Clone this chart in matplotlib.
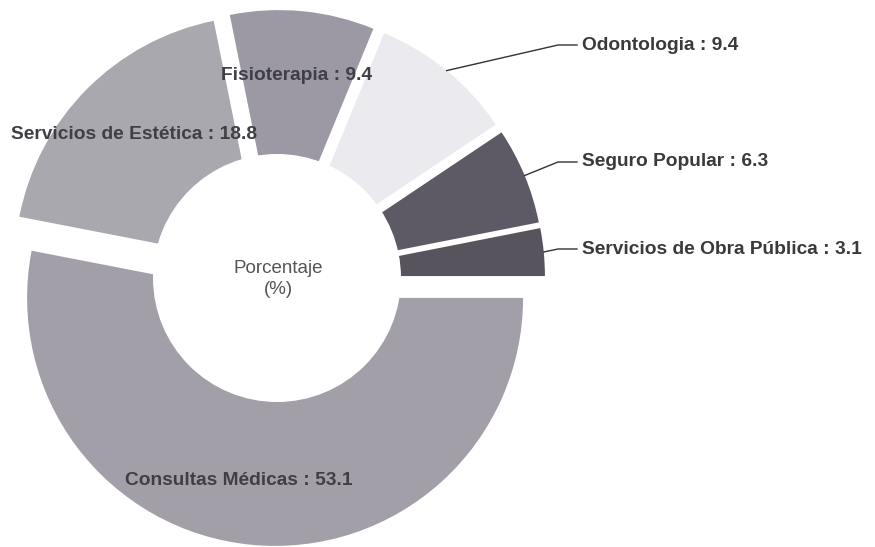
import numpy as np
import matplotlib
matplotlib.use("Agg")
import matplotlib.pyplot as plt
from matplotlib.patches import Circle

# Distribution of services (percent), counter-clockwise from 3 o'clock
categories = ["Servicios de Obra Pública", "Seguro Popular", "Odontologia",
              "Fisioterapia", "Servicios de Estética", "Consultas Médicas"]
values = [3.1, 6.3, 9.4, 9.4, 18.8, 53.1]
colors = ["#57545e", "#5d5a66", "#ebebef", "#9c99a4", "#aaa8af", "#a29fa9"]
outside = [True, True, True, False, False, False]

W, H = 875, 547
fig = plt.figure(figsize=(W / 100, H / 100), dpi=100)
ax = fig.add_axes([0, 0, 1, 1])

cx, cy = 277, H - 278
R = 248
hole_r = 124
gap = 20

wedges, _ = ax.pie(values, colors=colors, startangle=0, counterclock=True,
                   explode=[gap] * len(values), radius=R, center=(cx, cy),
                   wedgeprops=dict(linewidth=0))
ax.add_patch(Circle((cx, cy), hole_r, facecolor="white", edgecolor="none", zorder=5))

ax.set_xlim(0, W)
ax.set_ylim(0, H)
ax.set_aspect("equal")
ax.axis("off")

font = ["Liberation Sans", "DejaVu Sans"]
text_x = 582
text_y = {0: H - 249, 1: H - 162, 2: H - 45}
# small horizontal nudges for the labels placed inside the ring
nudge_x = {3: 0, 4: 2, 5: -19}

for i, (w, name, val) in enumerate(zip(wedges, categories, values)):
    mid = np.deg2rad((w.theta1 + w.theta2) / 2)
    wx, wy = w.center
    label = f"{name} : {val}"
    if outside[i]:
        sx, sy = wx + R * np.cos(mid), wy + R * np.sin(mid)
        ty = text_y[i]
        ax.plot([sx, text_x - 24, text_x - 5], [sy, ty, ty],
                color="#333333", lw=1.0, zorder=6)
        ax.text(text_x, ty, label, ha="left", va="center", fontsize=13.8,
                fontweight="bold", color="#3a3a3a", family=font, zorder=7)
    else:
        d = 0.74 * R
        ax.text(wx + d * np.cos(mid) + nudge_x[i], wy + d * np.sin(mid), label,
                ha="center", va="center", fontsize=13.8, fontweight="bold",
                color="#3f3f45", family=font, zorder=7)

ax.text(cx + 1, cy - 1, "Porcentaje\n(%)", ha="center", va="center",
        fontsize=13.5, color="#555555", family=font, zorder=7, linespacing=1.25)

fig.savefig("out.png", dpi=100)
